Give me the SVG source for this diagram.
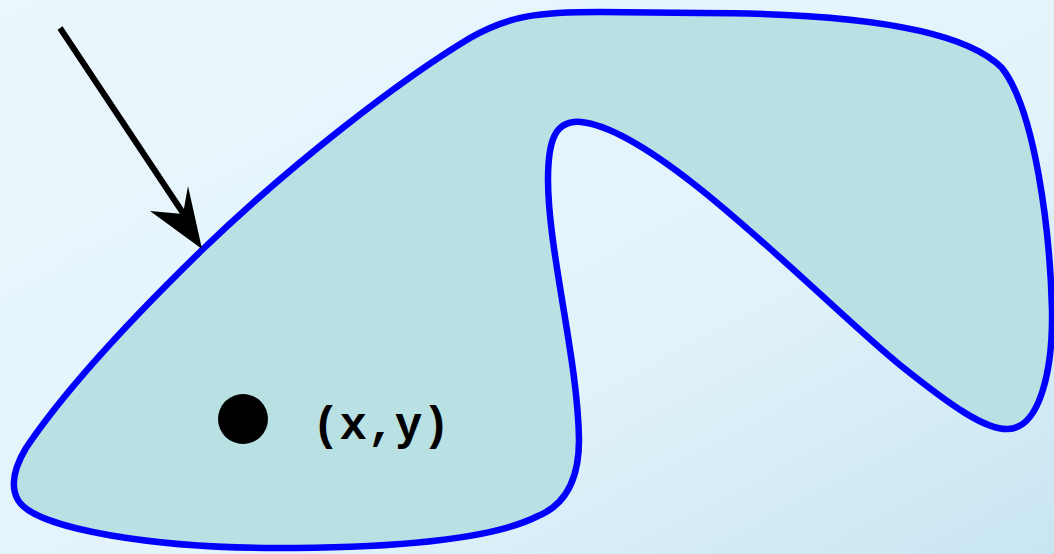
<svg xmlns="http://www.w3.org/2000/svg" width="1054" height="554" viewBox="0 0 1054 554">
<defs>
<linearGradient id="bg" x1="0" y1="0" x2="1" y2="1">
<stop offset="0" stop-color="#eaf7fd"/>
<stop offset="0.6" stop-color="#e3f3fa"/>
<stop offset="1" stop-color="#c8e5f2"/>
</linearGradient>
<style>
.region{fill:#b9e0e3;stroke:#0000ff;stroke-width:6.5;stroke-linejoin:round}
.lbl{font-family:"Liberation Mono","Courier New",monospace;font-weight:bold;font-size:46px;fill:#000}
</style>
</defs>
<rect width="1054" height="554" fill="url(#bg)"/>
<g id="region">
<path class="region" d="M 26,448 C 65,390 130,320 202,250 C 290,165 400,80 470,38 C 510,15 540,12 600,12 L 700,13 C 860,13 965,30 1002,68 C 1035,110 1050,230 1052,310 C 1053,370 1040,428 1008,429 C 985,430 950,405 900,365 C 820,300 660,130 581,122 C 555,120 548,140 548,180 C 548,250 578,360 579,440 C 579,480 565,505 538,516 C 495,538 400,548 275,548 C 160,548 35,530 18,500 C 10,486 14,468 26,448 Z"/>
</g>
<g id="point">
<circle cx="243" cy="419" r="25" fill="#000"/>
<text class="lbl" x="312" y="439">(x,y)</text>
</g>
<g id="connectors">
<line x1="60" y1="28" x2="185" y2="216" stroke="#000" stroke-width="6"/>
<polygon points="202,249 150,211 183,214 188,186" fill="#000"/>
</g>
</svg>
